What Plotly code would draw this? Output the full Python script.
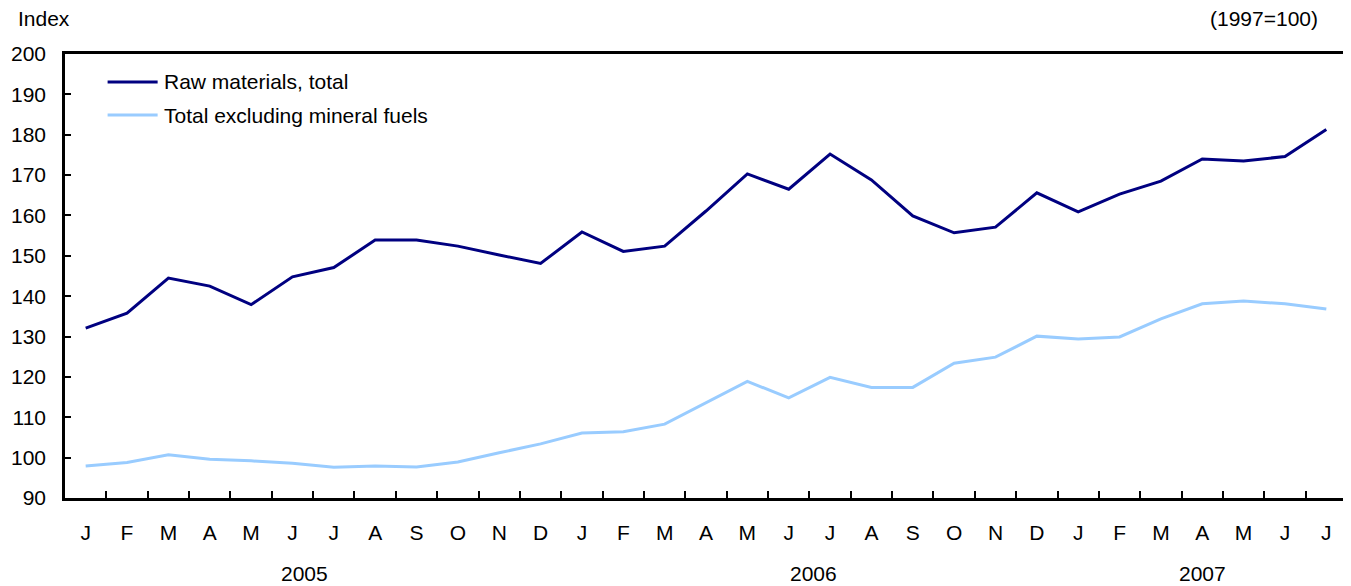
import plotly.graph_objects as go

months = ["J","F","M","A","M","J","J","A","S","O","N","D",
          "J","F","M","A","M","J","J","A","S","O","N","D",
          "J","F","M","A","M","J","J"]
years = ["2005", "2006", "2007"]
year_centers = [5.3, 17.6, 27.0]
series_names = ["Raw materials, total", "Total excluding mineral fuels"]
series_colors = ["#000080", "#99CCFF"]

raw_total = [132.1, 135.8, 144.5, 142.5, 137.9, 144.8, 147.1, 153.9, 153.9, 152.4, 150.2, 148.1,
             155.9, 151.1, 152.4, 161.1, 170.3, 166.5, 175.2, 168.8, 159.9, 155.7, 157.1, 165.6,
             160.9, 165.3, 168.5, 174.0, 173.5, 174.6, 181.3]
excl_fuels = [97.9, 98.8, 100.7, 99.6, 99.2, 98.6, 97.6, 97.9, 97.7, 98.9, 101.2, 103.4,
              106.1, 106.4, 108.3, 113.7, 118.9, 114.8, 119.9, 117.4, 117.4, 123.4, 124.9, 130.1,
              129.4, 129.9, 134.4, 138.1, 138.8, 138.1, 136.8]

x = list(range(len(months)))
FONT = "Liberation Sans, Arial, Helvetica, sans-serif"
FS = 21

fig = go.Figure()
for name, vals, col in zip(series_names, [raw_total, excl_fuels], series_colors):
    fig.add_trace(go.Scatter(x=x, y=vals, mode="lines", name=name,
                             line=dict(color=col, width=3)))
# invisible trace carrying the month-label axis
fig.add_trace(go.Scatter(x=x, y=[None]*len(x), xaxis="x2", showlegend=False, hoverinfo="skip"))

fig.update_layout(
    width=1343, height=578,
    margin=dict(l=57, r=1, t=46, b=88),
    paper_bgcolor="white", plot_bgcolor="white",
    font=dict(family=FONT, size=FS, color="black"),
    showlegend=False,
    xaxis=dict(range=[-0.5, 30.5], tickvals=[i + 0.5 for i in range(len(months) - 1)],
               showticklabels=False, ticks="inside", ticklen=7, tickwidth=2, tickcolor="black",
               showline=True, linewidth=2.5, linecolor="black", mirror=True, showgrid=False,
               zeroline=False),
    xaxis2=dict(range=[-0.5, 30.5], overlaying="x", side="bottom", tickvals=x, ticktext=months,
                ticks="", showline=False, showgrid=False, zeroline=False,
                tickfont=dict(size=FS), ticklabelstandoff=20),
    yaxis=dict(range=[90, 200], tickvals=list(range(90, 201, 10)), ticks="inside", ticklen=6,
               tickwidth=2, tickcolor="black", showline=True, linewidth=2.5, linecolor="black",
               mirror=True, showgrid=False, zeroline=False, tickfont=dict(size=FS),
               ticklabelstandoff=12),
)

anns = [
    dict(text="Index", xref="paper", yref="paper", x=0, xshift=-49, y=1.081, xanchor="left",
         yanchor="middle", showarrow=False, font=dict(size=FS)),
    dict(text="(1997=100)", xref="paper", yref="paper", x=1, xshift=-27, y=1.081, xanchor="right",
         yanchor="middle", showarrow=False, font=dict(size=FS)),
]
for yr, c in zip(years, year_centers):
    anns.append(dict(text=yr, x=c, xref="x", yref="paper", y=-0.169, yanchor="middle",
                     showarrow=False, font=dict(size=FS)))

# custom legend
shapes = []
leg_y = [0.937, 0.8626]
for name, col, ly in zip(series_names, series_colors, leg_y):
    shapes.append(dict(type="line", xref="x", yref="paper", x0=0.53, x1=1.74,
                       y0=ly, y1=ly, line=dict(color=col, width=3)))
    anns.append(dict(text=name, xref="x", yref="paper", x=1.84, y=ly, xanchor="left",
                     yanchor="middle", showarrow=False, font=dict(size=FS)))

fig.update_layout(annotations=anns, shapes=shapes)

fig.write_html("out.html")
